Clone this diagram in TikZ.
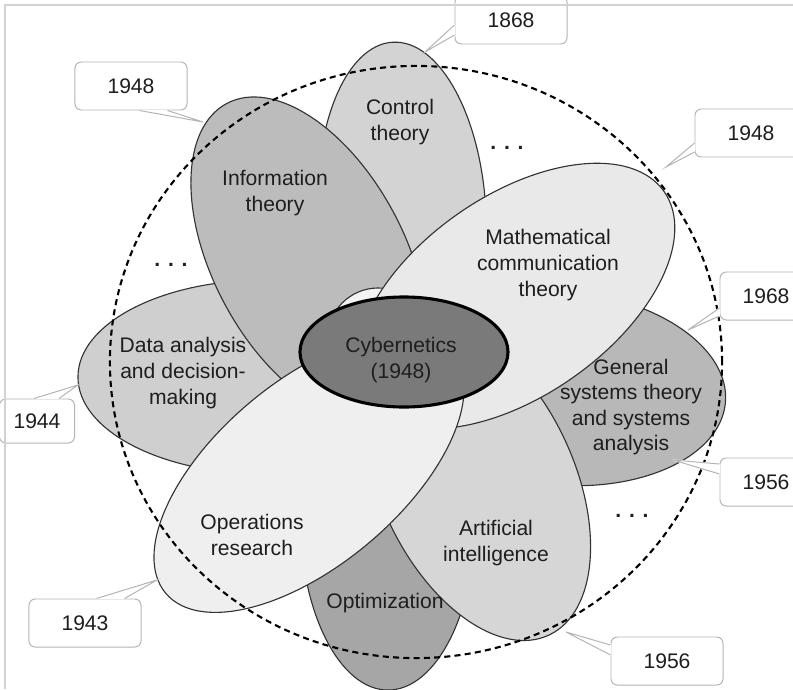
\documentclass[tikz,border=0pt]{standalone}
\usepackage{fontspec}
\setmainfont{Liberation Sans}
\usepackage{xcolor}
\usepackage{tikz}
\usetikzlibrary{shapes.geometric,calc}

\definecolor{edgegray}{HTML}{333333}
\definecolor{textgray}{HTML}{1E1E1E}
\definecolor{boxgray}{HTML}{B4B4B4}
\definecolor{framegray}{HTML}{D2D2D2}
\definecolor{ctrlgray}{HTML}{D3D3D3}
\definecolor{infogray}{HTML}{BCBCBC}
\definecolor{datagray}{HTML}{CFCFCF}
\definecolor{optgray}{HTML}{A6A6A6}
\definecolor{gsgray}{HTML}{B8B8B8}
\definecolor{aigray}{HTML}{D6D6D6}
\definecolor{mathgray}{HTML}{E9E9E9}
\definecolor{opsgray}{HTML}{EFEFEF}
\definecolor{loopgray}{HTML}{F3F3F3}
\definecolor{hubgray}{HTML}{7A7A7A}

% pointer of a year callout: base point, tip, base point
\newcommand{\yearptr}[3]{%
  \filldraw[white, line width=0.9pt, line join=round] #1 -- #2 -- #3 -- cycle;
  \draw[boxline] #1 -- #2 -- #3;}

\begin{document}
\begin{tikzpicture}[
			x=0.025cm, y=-0.025cm,
			petal/.style={ellipse, draw=edgegray, line width=0.8pt, inner sep=0pt},
			petaltext/.style={align=center, text=textgray, font=\fontsize{15}{18.2}\selectfont},
			yearbox/.style={draw=boxgray, fill=white, line width=0.7pt, rounded corners=4.5pt, minimum width=2.8cm, minimum height=1.2cm, text=textgray, font=\fontsize{15}{18}\selectfont},
			boxline/.style={draw=boxgray, line width=0.7pt},
			ring/.style={ellipse, draw=black, line width=1.5pt, dash pattern=on 4.3pt off 3pt, inner sep=0pt},
			etc/.style={anchor=base, text=textgray, font=\bfseries\fontsize{15}{18}\selectfont}
			]
			\useasboundingbox (0,0) rectangle (793,689);
			\clip (0,0) rectangle (793,689);
			
			%==================== petals ====================
			\node[petal, fill=ctrlgray, rotate=93, minimum width=8.65cm, minimum height=4.2cm] (ctrl) at (402,215) {};
			\node[petal, fill=datagray, minimum width=9.35cm, minimum height=4.85cm] (data) at (265,377) {};
			\node[petal, fill=infogray, rotate=-62, minimum width=8.75cm, minimum height=4.8cm] (info) at (309,258) {};
			\node[petal, fill=optgray, rotate=90, minimum width=8.75cm, minimum height=4.4cm] (opt) at (388,515) {};
			\node[petal, fill=gsgray, rotate=-5, minimum width=8.3cm, minimum height=4.85cm] (gst) at (560,388) {};
			\node[petal, fill=aigray, rotate=115, minimum width=8.5cm, minimum height=4.85cm] (ai) at (477,481) {};
			\node[petal, fill=loopgray, minimum width=2.55cm, minimum height=2.6cm] (loop) at (378,340) {};
			\node[petal, fill=mathgray, rotate=35, minimum width=9.1cm, minimum height=5cm] (mct) at (515,296) {};
			\node[petal, fill=opsgray, rotate=40, minimum width=9.35cm, minimum height=4.6cm] (ops) at (309,473) {};
			
			\node[ring, minimum width=15.3cm, minimum height=14.8cm] (ring) at (416,362) {};
			
			\node[petal, fill=hubgray, draw=black, line width=2.2pt, minimum width=5.2cm, minimum height=2.75cm] (cyb) at (404,352) {};
			
			%==================== petal texts ====================
			\node[petaltext] (ctrltxt) at (400,122) {Control\\theory};
			\node[petaltext] (infotxt) at (275,193) {Information\\theory};
			\node[petaltext] (mcttxt) at (548,265) {Mathematical\\communication\\theory};
			\node[petaltext] (datatxt) at (183,373) {Data analysis\\and decision-\\making};
			\node[petaltext] (cybtxt) at (401,360) {Cybernetics\\(1948)};
			\node[petaltext] (gsttxt) at (631,407) {General\\systems theory\\and systems\\analysis};
			\node[petaltext] (opstxt) at (252,535) {Operations\\research};
			\node[petaltext] (aitxt) at (496,543) {Artificial\\intelligence};
			\node[petaltext] (opttxt) at (385,603) {Optimization};
			
			\node[etc] (etc1) at (507,149) {. . .};
			\node[etc] (etc2) at (171,266) {. . .};
			\node[etc] (etc3) at (632,517) {. . .};
			
			%==================== year callouts ====================
			\node[yearbox] (y1868) at (511,20) {1868};
			\coordinate (t1868) at (425,52);
			\yearptr{($(y1868.west)+(0,5)$)}{(t1868)}{($(y1868.west)+(0,15)$)}
			
			\node[yearbox] (y1948a) at (131,86) {1948};
			\coordinate (t1948a) at (203,122);
			\yearptr{($(y1948a.south west)+(65,0)$)}{(t1948a)}{($(y1948a.south west)+(93,0)$)}
			
			\node[yearbox] (y1948b) at (751,133) {1948};
			\coordinate (t1948b) at (666,167);
			\yearptr{($(y1948b.west)+(0,10)$)}{(t1948b)}{($(y1948b.west)+(0,19)$)}
			
			\node[yearbox, minimum width=2.3cm] (y1968) at (766,296) {1968};
			\coordinate (t1968) at (688,330);
			\yearptr{($(y1968.west)+(0,12)$)}{(t1968)}{($(y1968.west)+(0,20)$)}
			
			\node[yearbox, minimum width=2.3cm] (y1956a) at (766,482) {1956};
			\coordinate (t1956a) at (673,460);
			\yearptr{($(y1956a.west)+(0,-18)$)}{(t1956a)}{($(y1956a.west)+(0,-8)$)}
			
			\node[yearbox] (y1956b) at (667,661) {1956};
			\coordinate (t1956b) at (566,632);
			\yearptr{($(y1956b.west)+(0,-16)$)}{(t1956b)}{($(y1956b.west)+(0,-6)$)}
			
			\node[yearbox] (y1943) at (85,623) {1943};
			\coordinate (t1943) at (157,580);
			\yearptr{($(y1943.north west)+(68,0)$)}{(t1943)}{($(y1943.north west)+(96,0)$)}
			
			\node[yearbox, minimum width=1.875cm, minimum height=1.1cm] (y1944) at (37,421) {1944};
			\coordinate (t1944) at (78,385);
			\yearptr{($(y1944.north west)+(35,0)$)}{(t1944)}{($(y1944.north west)+(60,0)$)}
			
			%==================== frame ====================
			\draw[framegray, line width=1.4pt] (793,5) -- (5,5) -- (5,689);
			
		\end{tikzpicture}
\end{document}
